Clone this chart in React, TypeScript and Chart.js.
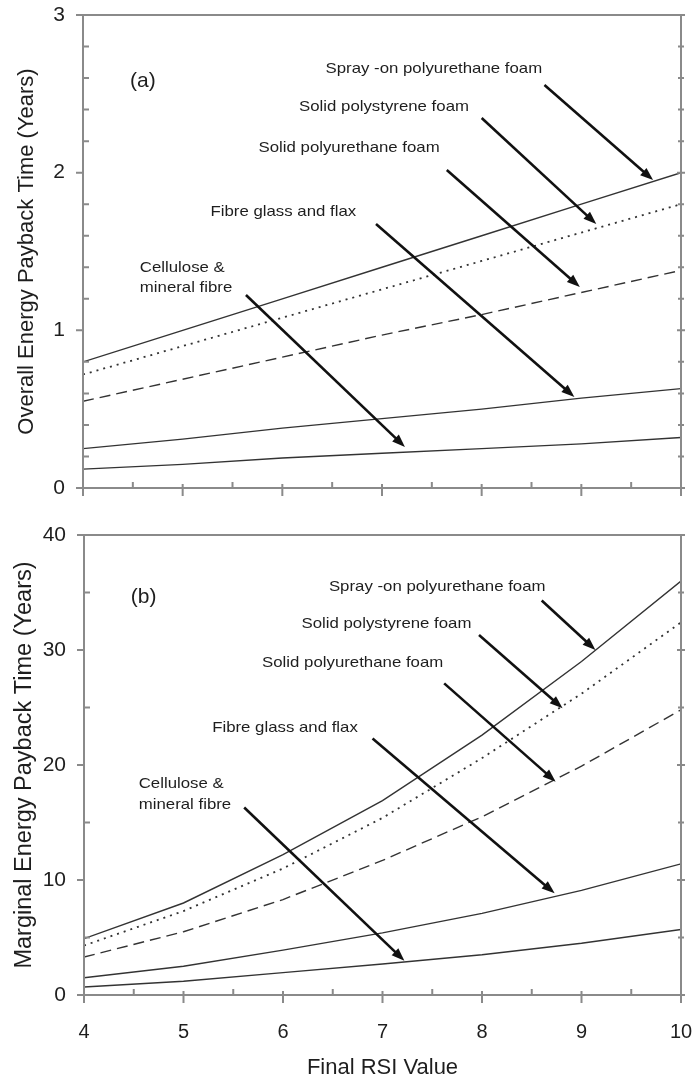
import React, { useEffect, useRef } from "react";
import { Chart, registerables } from "chart.js";

Chart.register(...registerables);

// ---------------- data ----------------
const rsi = [4, 5, 6, 7, 8, 9, 10];

const seriesNames = [
  "Spray -on polyurethane foam",
  "Solid polystyrene foam",
  "Solid polyurethane foam",
  "Fibre glass and flax",
  "Cellulose & mineral fibre",
];

// (a) overall energy payback time (years)
const overallSpray = [0.8, 1.0, 1.2, 1.4, 1.6, 1.8, 2.0];
const overallPolystyrene = [0.72, 0.9, 1.08, 1.26, 1.44, 1.62, 1.8];
const overallPolyurethane = [0.55, 0.69, 0.83, 0.97, 1.1, 1.24, 1.38];
const overallFibre = [0.25, 0.31, 0.38, 0.44, 0.5, 0.57, 0.63];
const overallCellulose = [0.12, 0.15, 0.19, 0.22, 0.25, 0.28, 0.32];

// (b) marginal energy payback time (years)
const marginalSpray = [4.9, 8.0, 12.2, 16.9, 22.6, 29.0, 36.0];
const marginalPolystyrene = [4.3, 7.3, 11.0, 15.4, 20.6, 26.2, 32.4];
const marginalPolyurethane = [3.3, 5.5, 8.3, 11.7, 15.5, 19.9, 24.8];
const marginalFibre = [1.5, 2.5, 3.9, 5.4, 7.1, 9.1, 11.4];
const marginalCellulose = [0.7, 1.2, 1.95, 2.7, 3.5, 4.5, 5.7];

const overallYTicks = { max: 3, major: 1, minor: 0.2 };
const marginalYTicks = { max: 40, major: 10, minor: 5 };

// annotations, in data coordinates
const overallLabels = [
  { text: "(a)", x: 4.6, y: 2.58, align: "center", big: true },
  { text: "Spray -on polyurethane foam", x: 7.52, y: 2.66, align: "center" },
  { text: "Solid polystyrene foam", x: 7.02, y: 2.416, align: "center" },
  { text: "Solid polyurethane foam", x: 6.67, y: 2.156, align: "center" },
  { text: "Fibre glass and flax", x: 6.01, y: 1.754, align: "center" },
  { text: "Cellulose &", x: 4.57, y: 1.395, align: "left" },
  { text: "mineral fibre", x: 4.57, y: 1.268, align: "left" },
];
const overallArrows = [
  [8.63, 2.556, 9.72, 1.953],
  [8.0, 2.347, 9.15, 1.674],
  [7.65, 2.017, 8.985, 1.275],
  [6.94, 1.674, 8.93, 0.577],
  [5.635, 1.224, 7.23, 0.26],
];

const marginalLabels = [
  { text: "(b)", x: 4.6, y: 34.6, align: "center", big: true },
  { text: "Spray -on polyurethane foam", x: 7.55, y: 35.5, align: "center" },
  { text: "Solid polystyrene foam", x: 7.04, y: 32.26, align: "center" },
  { text: "Solid polyurethane foam", x: 6.7, y: 28.84, align: "center" },
  { text: "Fibre glass and flax", x: 6.02, y: 23.25, align: "center" },
  { text: "Cellulose &", x: 4.55, y: 18.4, align: "left" },
  { text: "mineral fibre", x: 4.55, y: 16.5, align: "left" },
];
const marginalArrows = [
  [8.6, 34.3, 9.14, 30.0],
  [7.97, 31.3, 8.81, 24.93],
  [7.62, 27.1, 8.74, 18.55],
  [6.9, 22.3, 8.73, 8.84],
  [5.61, 16.3, 7.22, 2.98],
];

// ---------------- styling ----------------
const FONT = "'Liberation Sans', Arial, sans-serif";
const dashes = [[], [2, 5], [11, 6], [], []];
const FRAME = "#8a8a8a";
const INK = "#1e1e1e";

function framePlugin(yt: { max: number; major: number; minor: number }) {
  return {
    id: "frameTicks",
    afterDraw(chart: any) {
      const { ctx, chartArea } = chart;
      const { left, right, top, bottom } = chartArea;
      const xs = chart.scales.x;
      const ys = chart.scales.y;
      ctx.save();
      ctx.strokeStyle = FRAME;
      ctx.lineWidth = 2;
      ctx.strokeRect(left, top, right - left, bottom - top);
      ctx.beginPath();
      const nY = Math.round(yt.max / yt.minor);
      const per = Math.round(yt.major / yt.minor);
      for (let i = 0; i <= nY; i++) {
        const py = ys.getPixelForValue(i * yt.minor);
        const major = i % per === 0;
        if (major) {
          ctx.moveTo(left - 7, py);
          ctx.lineTo(left, py);
          ctx.moveTo(right - 4, py);
          ctx.lineTo(right + 4, py);
        } else {
          ctx.moveTo(left, py);
          ctx.lineTo(left + 6, py);
          ctx.moveTo(right - 3, py);
          ctx.lineTo(right + 3, py);
        }
      }
      for (let i = 0; i <= 12; i++) {
        const v = 4 + i * 0.5;
        const px = xs.getPixelForValue(v);
        if (i % 2 === 0) {
          ctx.moveTo(px, bottom - 4);
          ctx.lineTo(px, bottom + 8);
        } else {
          ctx.moveTo(px, bottom - 6);
          ctx.lineTo(px, bottom);
        }
      }
      ctx.stroke();
      ctx.restore();
    },
  };
}

function annotationPlugin(labels: any[], arrows: number[][]) {
  return {
    id: "annotations",
    afterDraw(chart: any) {
      const { ctx } = chart;
      const xs = chart.scales.x;
      const ys = chart.scales.y;
      ctx.save();
      ctx.fillStyle = INK;
      ctx.textBaseline = "middle";
      for (const l of labels) {
        const px = xs.getPixelForValue(l.x);
        const py = ys.getPixelForValue(l.y);
        ctx.save();
        ctx.translate(px, py);
        if (l.big) {
          ctx.font = `21px ${FONT}`;
        } else {
          ctx.scale(1.12, 1);
          ctx.font = `15px ${FONT}`;
        }
        ctx.textAlign = l.align;
        ctx.fillText(l.text, 0, 0);
        ctx.restore();
      }
      ctx.strokeStyle = "#111";
      ctx.fillStyle = "#111";
      ctx.lineWidth = 2.6;
      for (const a of arrows) {
        const x1 = xs.getPixelForValue(a[0]);
        const y1 = ys.getPixelForValue(a[1]);
        const x2 = xs.getPixelForValue(a[2]);
        const y2 = ys.getPixelForValue(a[3]);
        const ang = Math.atan2(y2 - y1, x2 - x1);
        const hl = 13;
        const hw = 4.8;
        const bx = x2 - hl * Math.cos(ang);
        const by = y2 - hl * Math.sin(ang);
        ctx.beginPath();
        ctx.moveTo(x1, y1);
        ctx.lineTo(bx + 2 * Math.cos(ang), by + 2 * Math.sin(ang));
        ctx.stroke();
        ctx.beginPath();
        ctx.moveTo(x2, y2);
        ctx.lineTo(bx - hw * Math.sin(ang), by + hw * Math.cos(ang));
        ctx.lineTo(bx + hw * Math.sin(ang), by - hw * Math.cos(ang));
        ctx.closePath();
        ctx.fill();
      }
      ctx.restore();
    },
  };
}

function zeroPadding(s: any) {
  s.paddingTop = 0;
  s.paddingBottom = 0;
  s.paddingLeft = 0;
  s.paddingRight = 0;
}

function buildConfig(p: any): any {
  return {
    type: "line",
    data: {
      datasets: p.series.map((vals: number[], i: number) => ({
        label: seriesNames[i],
        data: rsi.map((x, j) => ({ x, y: vals[j] })),
        borderColor: "#333",
        borderWidth: i === 1 ? 1.8 : 1.4,
        borderDash: dashes[i],
        pointRadius: 0,
        tension: 0,
        fill: false,
      })),
    },
    options: {
      animation: false,
      responsive: true,
      maintainAspectRatio: false,
      layout: { padding: { top: p.padTop, right: 15, left: 0, bottom: 0 } },
      plugins: { legend: { display: false }, tooltip: { enabled: false } },
      scales: {
        x: {
          type: "linear",
          min: 4,
          max: 10,
          grid: { display: false, drawTicks: false },
          border: { display: false },
          ticks: {
            display: p.showX,
            stepSize: 1,
            padding: 25,
            color: INK,
            font: { family: FONT, size: 20 },
          },
          title: {
            display: p.showX,
            text: "Final RSI Value",
            color: INK,
            font: { family: FONT, size: 22 },
            padding: { top: 0, bottom: 3 },
          },
          afterFit: (s: any) => {
            s.height = p.xHeight;
            zeroPadding(s);
          },
        },
        y: {
          type: "linear",
          min: 0,
          max: p.yt.max,
          grid: { display: false, drawTicks: false },
          border: { display: false },
          ticks: {
            stepSize: p.yt.major,
            padding: 18,
            color: INK,
            font: { family: FONT, size: 21 },
          },
          title: {
            display: true,
            text: p.ytitle,
            color: INK,
            font: { family: FONT, size: p.ytitleSize },
            padding: { top: p.ytitlePad, bottom: 0 },
          },
          afterFit: (s: any) => {
            s.width = p.yWidth;
            zeroPadding(s);
          },
        },
      },
    },
    plugins: [framePlugin(p.yt), annotationPlugin(p.labels, p.arrows)],
  };
}

export default function App() {
  const topRef = useRef<HTMLCanvasElement>(null);
  const botRef = useRef<HTMLCanvasElement>(null);

  useEffect(() => {
    const a = new Chart(
      topRef.current!,
      buildConfig({
        series: [overallSpray, overallPolystyrene, overallPolyurethane, overallFibre, overallCellulose],
        yt: overallYTicks,
        ytitle: "Overall Energy Payback Time (Years)",
        ytitleSize: 22,
        ytitlePad: 14,
        yWidth: 83,
        xHeight: 27,
        padTop: 15,
        showX: false,
        labels: overallLabels,
        arrows: overallArrows,
      })
    );
    const b = new Chart(
      botRef.current!,
      buildConfig({
        series: [marginalSpray, marginalPolystyrene, marginalPolyurethane, marginalFibre, marginalCellulose],
        yt: marginalYTicks,
        ytitle: "Marginal Energy Payback Time (Years)",
        ytitleSize: 23.5,
        ytitlePad: 10,
        yWidth: 84,
        xHeight: 89,
        padTop: 20,
        showX: true,
        labels: marginalLabels,
        arrows: marginalArrows,
      })
    );
    return () => {
      a.destroy();
      b.destroy();
    };
  }, []);

  return (
    <div style={{ position: "absolute", left: 0, top: 0, width: 696, height: 1084, background: "#fff" }}>
      <div style={{ position: "absolute", left: 0, top: 0, width: 696, height: 515 }}>
        <canvas ref={topRef} />
      </div>
      <div style={{ position: "absolute", left: 0, top: 515, width: 696, height: 569 }}>
        <canvas ref={botRef} />
      </div>
    </div>
  );
}
